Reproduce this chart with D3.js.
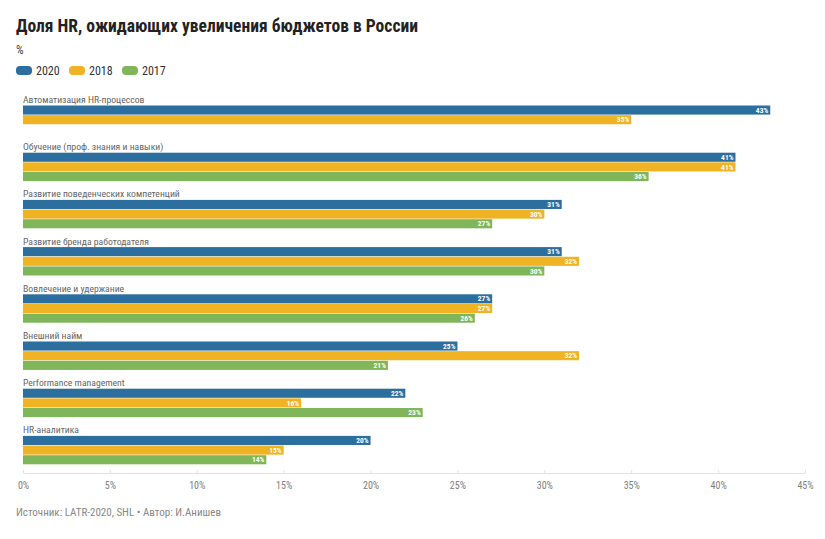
<!DOCTYPE html>
<html><head><meta charset="utf-8">
<script src="https://cdn.jsdelivr.net/npm/d3@7"></script>
<style>
body{margin:0;background:#fff;}
svg{display:block;}
</style></head>
<body><svg id="c" width="825" height="539"></svg>
<script>
const categories = ["Автоматизация HR-процессов","Обучение (проф. знания и навыки)","Развитие поведенческих компетенций","Развитие бренда работодателя","Вовлечение и удержание","Внешний найм","Performance management","HR-аналитика"];
const seriesNames = ["2020","2018","2017"];
const values2020 = [43,41,31,31,27,25,22,20];
const values2018 = [35,41,30,32,27,32,16,15];
const values2017 = [null,36,27,30,26,21,23,14];
const xTicks = [0,5,10,15,20,25,30,35,40,45];
const colors = ["#2c6e9d","#f0b323","#7fb65a"];
const seriesValues = [values2020, values2018, values2017];

const svg = d3.select("#c");
const F = '"Roboto Condensed","Liberation Sans Narrow","DejaVu Sans Condensed",sans-serif';

svg.append("text").attr("x",16).attr("y",32).attr("font-family",F).attr("font-weight","bold")
  .attr("font-size",18).attr("fill","#222").attr("textLength",402).attr("lengthAdjust","spacingAndGlyphs")
  .text("Доля HR, ожидающих увеличения бюджетов в России");
svg.append("text").attr("x",16).attr("y",54).attr("font-family",F).attr("font-size",12).attr("fill","#444").text("%");

// legend
const lg = svg.append("g");
const legX = [16,69,122];
seriesNames.forEach((s,i)=>{
  lg.append("rect").attr("x",legX[i]).attr("y",66).attr("width",16).attr("height",9).attr("rx",4).attr("fill",colors[i]);
  lg.append("text").attr("x",legX[i]+20).attr("y",75).attr("font-family",F).attr("font-size",12).attr("fill","#333").text(s);
});

const x = d3.scaleLinear().domain([0,45]).range([23,805]);
const y = d3.scaleBand().domain(categories).range([95,472.6]).padding(0);
const yi = d3.scaleBand().domain(seriesNames).range([0,28.4]).paddingInner(0.06);

// axis
const axis = d3.axisBottom(x).tickValues(xTicks).tickFormat(d=>d+"%").tickSize(-3).tickSizeOuter(0).tickPadding(9);
const ag = svg.append("g").attr("transform","translate(0,473)").call(axis);
ag.select(".domain").attr("stroke","#e3e3e3");
ag.selectAll(".tick line").attr("stroke","#e3e3e3");
ag.selectAll(".tick text").attr("font-family",F).attr("font-size",10).attr("fill","#808080");

// groups
const g = svg.selectAll("g.cat").data(categories).join("g").attr("class","cat")
  .attr("transform",d=>`translate(0,${y(d)})`);
g.append("text").attr("x",23).attr("y",8).attr("font-family",F).attr("font-size",9.7).attr("fill","#666").text(d=>d);

categories.forEach((c,ci)=>{
  const gg = g.filter(d=>d===c);
  seriesNames.forEach((s,si)=>{
    const v = seriesValues[si][ci];
    if(v==null) return;
    const yy = 10.5 + yi(s);
    gg.append("rect").attr("x",x(0)).attr("y",yy).attr("width",x(v)-x(0)).attr("height",yi.bandwidth()).attr("fill",colors[si]);
    gg.append("text").attr("x",x(v)-2).attr("y",yy+yi.bandwidth()/2).attr("dy","0.35em").attr("text-anchor","end")
      .attr("font-family",F).attr("font-weight","bold").attr("font-size",7.5).attr("fill","#fff").text(v+"%");
  });
});

svg.append("text").attr("x",16).attr("y",516).attr("font-family",F).attr("font-size",11).attr("fill","#888")
  .text("Источник: LATR-2020, SHL • Автор: И.Анишев");
</script></body></html>
